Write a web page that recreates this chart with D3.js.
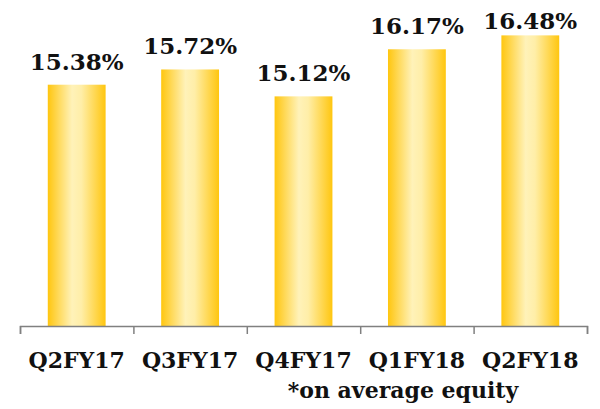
<!DOCTYPE html>
<html>
<head>
<meta charset="utf-8">
<script src="https://cdn.jsdelivr.net/npm/d3@7"></script>
<style>
  body { margin: 0; background: #fff; }
  svg text { font-family: "DejaVu Serif", "Liberation Serif", serif; font-weight: bold; fill: #111; }
</style>
</head>
<body>
<svg id="chart" width="600" height="409"></svg>
<script>
let quarters = ["Q2FY17", "Q3FY17", "Q4FY17", "Q1FY18", "Q2FY18"]
let roe = [15.38, 15.72, 15.12, 16.17, 16.48]
let valueLabels = ["15.38%", "15.72%", "15.12%", "16.17%", "16.48%"]
let footnote = "*on average equity"

let svg = d3.select("#chart")
let left = 20, right = 587, base = 326

let x = d3.scaleBand()
    .domain(quarters)
    .range([left, right])
    .paddingInner(0.49)
    .paddingOuter(0.245)

let y = d3.scaleLinear()
    .domain([10, 17])
    .range([base, base - 7 * 44.85])

// gold gradient, light in the middle
let grad = svg.append("defs").append("linearGradient")
    .attr("id", "gold")
    .attr("x1", "0%").attr("x2", "100%")
    .attr("y1", "0%").attr("y2", "0%")
grad.append("stop").attr("offset", "0%").attr("stop-color", "#ffc60f")
grad.append("stop").attr("offset", "42%").attr("stop-color", "#fff2b9")
grad.append("stop").attr("offset", "58%").attr("stop-color", "#ffeea8")
grad.append("stop").attr("offset", "100%").attr("stop-color", "#ffc60f")

svg.selectAll("rect.bar")
    .data(roe).enter()
    .append("rect")
    .attr("class", "bar")
    .attr("x", (d, i) => x(quarters[i]))
    .attr("width", x.bandwidth())
    .attr("y", d => y(d))
    .attr("height", d => base - y(d))
    .attr("fill", "url(#gold)")

// labels sit 15px over the bar, but never above the top edge
svg.selectAll("text.val")
    .data(roe).enter()
    .append("text")
    .attr("class", "val")
    .attr("x", (d, i) => x(quarters[i]) + x.bandwidth() / 2)
    .attr("y", d => Math.max(y(d) - 15, 29))
    .attr("text-anchor", "middle")
    .style("font-size", "23px")
    .text((d, i) => valueLabels[i])

// axis with ticks on the band edges
let edges = d3.scaleLinear().domain([0, quarters.length]).range([left, right])
let axis = svg.append("g")
    .attr("transform", "translate(0," + base + ")")
    .call(d3.axisBottom(edges).ticks(quarters.length).tickSize(8).tickSizeOuter(8).tickFormat(""))
axis.selectAll("line, path").attr("stroke", "#808080").attr("stroke-width", 1.5)

svg.selectAll("text.cat")
    .data(quarters).enter()
    .append("text")
    .attr("class", "cat")
    .attr("x", d => x(d) + x.bandwidth() / 2)
    .attr("y", 368)
    .attr("text-anchor", "middle")
    .style("font-size", "22px")
    .text(d => d)

svg.append("text")
    .attr("x", 403)
    .attr("y", 398)
    .attr("text-anchor", "middle")
    .style("font-size", "22px")
    .text(footnote)
</script>
</body>
</html>
